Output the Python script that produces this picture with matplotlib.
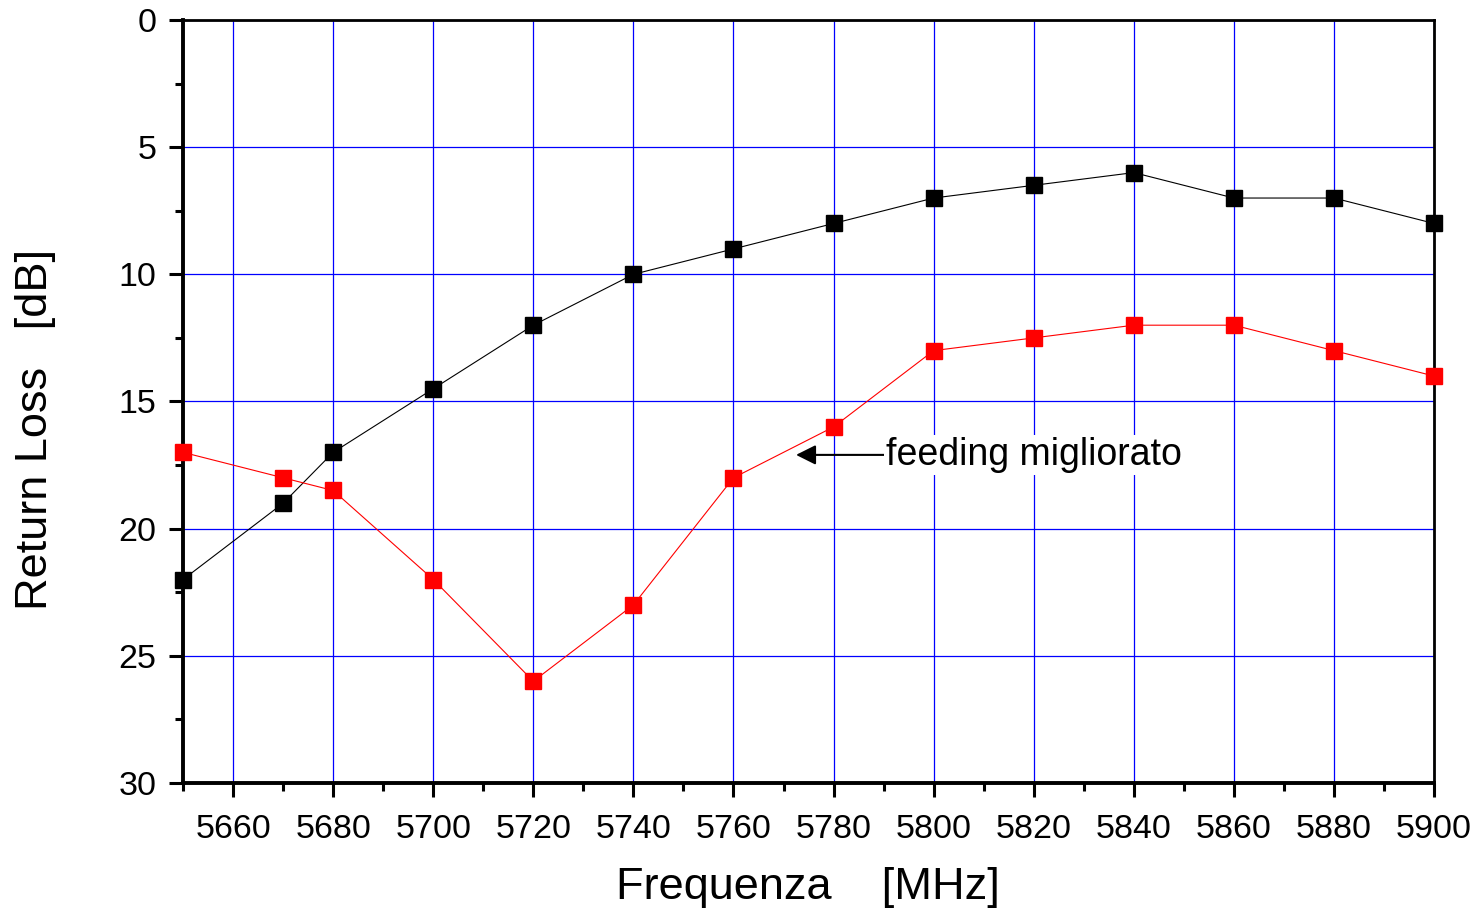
import matplotlib
matplotlib.use("Agg")
import matplotlib.pyplot as plt
from matplotlib.ticker import MultipleLocator

plt.rcParams['font.family'] = ['Liberation Sans', 'DejaVu Sans']

freq = [5650, 5670, 5680, 5700, 5720, 5740, 5760, 5780, 5800, 5820, 5840, 5860, 5880, 5900]
rl_orig = [22, 19, 17, 14.5, 12, 10, 9, 8, 7, 6.5, 6, 7, 7, 8]
rl_feed = [17, 18, 18.5, 22, 26, 23, 18, 16, 13, 12.5, 12, 12, 13, 14]

fig = plt.figure(figsize=(14.81, 9.18), dpi=100)
ax = fig.add_axes([0.1236, 0.1471, 0.8447, 0.8311])

ax.plot(freq, rl_orig, color='black', lw=0.8, marker='s', ms=12,
        markerfacecolor='black', markeredgecolor='black', zorder=3, clip_on=False)
ax.plot(freq, rl_feed, color='red', lw=0.8, marker='s', ms=12,
        markerfacecolor='red', markeredgecolor='red', zorder=3, clip_on=False)

ax.set_xlim(5650, 5900)
ax.set_ylim(30, 0)
ax.xaxis.set_major_locator(MultipleLocator(20))
ax.xaxis.set_minor_locator(MultipleLocator(10))
ax.yaxis.set_major_locator(MultipleLocator(5))
ax.yaxis.set_minor_locator(MultipleLocator(2.5))
ax.set_xticks(list(range(5660, 5901, 20)))

ax.grid(True, which='major', color='#0000ff', lw=0.9)
ax.set_axisbelow(True)

ax.tick_params(which='major', direction='out', length=10, width=2.2, labelsize=24.5, pad=12)
ax.tick_params(which='minor', direction='out', length=6, width=2.2)
ax.tick_params(axis='y', which='major', pad=9)
ax.tick_params(top=False, right=False)

ax.spines['left'].set_linewidth(2.8)
ax.spines['bottom'].set_linewidth(2.8)
ax.spines['top'].set_linewidth(2.0)
ax.spines['right'].set_linewidth(2.0)

ax.set_xlabel('Frequenza    [MHz]', fontsize=32.5)
ax.set_ylabel('Return Loss   [dB]', fontsize=32.5)
ax.xaxis.label.set_va('center')
ax.yaxis.label.set_va('center')
ax.xaxis.set_label_coords(0.4996, -0.1376)
ax.yaxis.set_label_coords(-0.1183, 0.464)

ax.annotate('feeding migliorato', xy=(5772.5, 17.1), xytext=(5790.5, 17.1),
            fontsize=27, va='center', ha='left',
            bbox=dict(boxstyle='square,pad=0.05', fc='white', ec='none'),
            arrowprops=dict(arrowstyle='-|>', color='black', lw=1.5,
                            mutation_scale=30, shrinkA=0, shrinkB=0))

fig.savefig('out.png', dpi=100)
